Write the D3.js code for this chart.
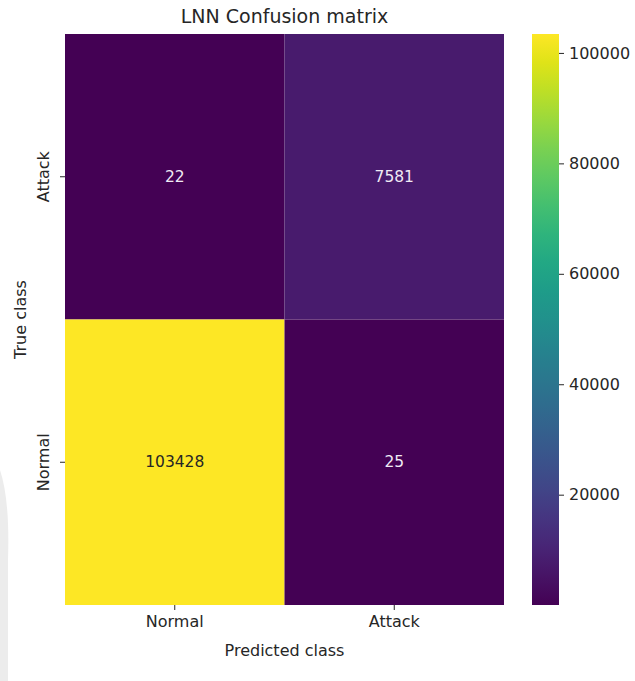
<!DOCTYPE html>
<html>
<head>
<meta charset="utf-8">
<script src="https://cdn.jsdelivr.net/npm/d3@7"></script>
<style>
  body { margin: 0; background: #fff; }
  svg { display: block; font-family: "DejaVu Sans", sans-serif; }
</style>
</head>
<body>
<div id="chart"></div>
<script>
// confusion matrix values, rows = true class (top to bottom), cols = predicted class
const trueClasses = ["Attack", "Normal"];
const predClasses = ["Normal", "Attack"];
const counts = [
  [22, 7581],
  [103428, 25]
];
const colorbarTicks = [20000, 40000, 60000, 80000, 100000];

const width = 635, height = 681;
const plot = { left: 65, right: 504, top: 34, bottom: 605 };
const cbar = { left: 532, right: 559 };

const svg = d3.select("#chart").append("svg")
  .attr("width", width)
  .attr("height", height);

// faint grey shape in the lower left corner of the original screenshot
svg.append("path")
  .attr("d", "M0,470 Q10,500 8,560 L8,681 L0,681 Z")
  .attr("fill", "#ececec");

const cells = [];
counts.forEach((row, i) => row.forEach((v, j) => cells.push({ row: trueClasses[i], col: predClasses[j], value: v })));

const vmin = d3.min(cells, d => d.value);
const vmax = d3.max(cells, d => d.value);

const x = d3.scaleBand().domain(predClasses).range([plot.left, plot.right]);
const y = d3.scaleBand().domain(trueClasses).range([plot.top, plot.bottom]);
const color = d3.scaleSequential(d3.interpolateViridis).domain([vmin, vmax]);

svg.append("g")
  .selectAll("rect")
  .data(cells)
  .join("rect")
  .attr("x", d => x(d.col))
  .attr("y", d => y(d.row))
  .attr("width", x.bandwidth())
  .attr("height", y.bandwidth())
  .attr("fill", d => color(d.value));

svg.append("g")
  .selectAll("text")
  .data(cells)
  .join("text")
  .attr("x", d => x(d.col) + x.bandwidth() / 2)
  .attr("y", d => y(d.row) + y.bandwidth() / 2)
  .attr("text-anchor", "middle")
  .attr("dominant-baseline", "central")
  .attr("font-size", 15.5)
  .attr("fill", d => (d3.hsl(color(d.value)).l > 0.5 ? "#262626" : "#f0eaf4"))
  .text(d => d.value);

// axes
const xAxis = svg.append("g")
  .attr("transform", `translate(0,${plot.bottom})`)
  .call(d3.axisBottom(x).tickSize(5).tickPadding(6));
xAxis.select(".domain").remove();
xAxis.selectAll("text").attr("font-size", 16).attr("fill", "#262626").attr("font-family", "DejaVu Sans");
xAxis.selectAll("line").attr("stroke", "#262626");

const yAxis = svg.append("g")
  .attr("transform", `translate(${plot.left},0)`)
  .call(d3.axisLeft(y).tickSize(5).tickPadding(0));
yAxis.select(".domain").remove();
yAxis.selectAll("line").attr("stroke", "#262626");
yAxis.selectAll("text")
  .attr("font-size", 16)
  .attr("fill", "#262626")
  .attr("font-family", "DejaVu Sans")
  .attr("x", null)
  .attr("dy", null)
  .attr("text-anchor", "middle")
  .attr("transform", "translate(-16,0) rotate(-90)");

svg.append("text")
  .attr("x", (plot.left + plot.right) / 2)
  .attr("y", 23)
  .attr("text-anchor", "middle")
  .attr("font-size", 19)
  .attr("fill", "#262626")
  .text("LNN Confusion matrix");

svg.append("text")
  .attr("x", (plot.left + plot.right) / 2)
  .attr("y", 656)
  .attr("text-anchor", "middle")
  .attr("font-size", 16)
  .attr("fill", "#262626")
  .text("Predicted class");

svg.append("text")
  .attr("transform", `translate(26,${(plot.top + plot.bottom) / 2}) rotate(-90)`)
  .attr("text-anchor", "middle")
  .attr("font-size", 16)
  .attr("fill", "#262626")
  .text("True class");

// colorbar
const defs = svg.append("defs");
const grad = defs.append("linearGradient")
  .attr("id", "viridis")
  .attr("x1", 0).attr("y1", 1).attr("x2", 0).attr("y2", 0);
d3.range(0, 1.0001, 0.05).forEach(t => {
  grad.append("stop").attr("offset", t).attr("stop-color", d3.interpolateViridis(t));
});

svg.append("rect")
  .attr("x", cbar.left)
  .attr("y", plot.top)
  .attr("width", cbar.right - cbar.left)
  .attr("height", plot.bottom - plot.top)
  .attr("fill", "url(#viridis)");

const cy = d3.scaleLinear().domain([vmin, vmax]).range([plot.bottom, plot.top]);
const cAxis = svg.append("g")
  .attr("transform", `translate(${cbar.right},0)`)
  .call(d3.axisRight(cy).tickValues(colorbarTicks).tickFormat(d3.format("d")).tickSize(5).tickPadding(5));
cAxis.select(".domain").remove();
cAxis.selectAll("line").attr("stroke", "#262626");
cAxis.selectAll("text").attr("font-size", 16).attr("fill", "#262626").attr("font-family", "DejaVu Sans");
</script>
</body>
</html>
